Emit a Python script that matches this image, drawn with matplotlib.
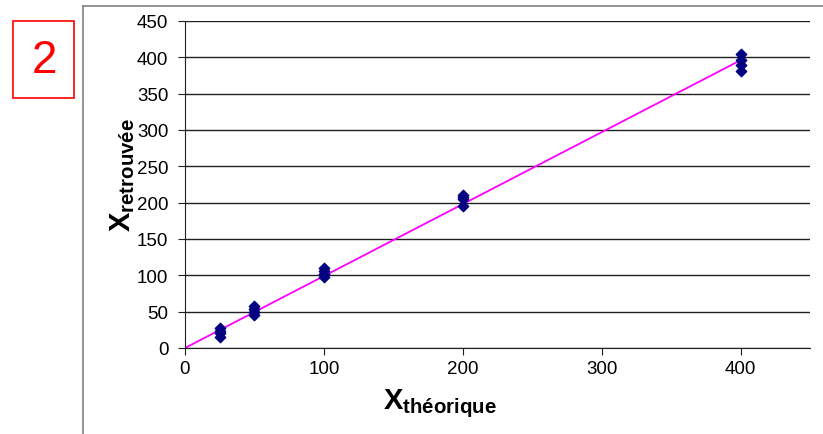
import matplotlib
matplotlib.use("Agg")
import matplotlib.pyplot as plt
from matplotlib.lines import Line2D
from matplotlib.patches import Rectangle

plt.rcParams['font.family'] = ['Liberation Sans', 'DejaVu Sans']
plt.rcParams['mathtext.fontset'] = 'custom'
plt.rcParams['mathtext.rm'] = 'Liberation Sans'
plt.rcParams['mathtext.bf'] = 'Liberation Sans:bold'

# data
x_theo = [25, 25, 25, 25,
          50, 50, 50, 50,
          100, 100, 100, 100,
          200, 200, 200, 200,
          400, 400, 400, 400]
x_found = [15, 20, 24, 28,
           46, 50, 54, 58,
           98, 102, 106, 110,
           195, 205, 208, 210,
           381, 390, 397, 404]
fit_x = [0, 400]
fit_y = [0, 396]

x_ticks = [0, 100, 200, 300, 400]
y_ticks = [0, 50, 100, 150, 200, 250, 300, 350, 400, 450]

fig = plt.figure(figsize=(8.23, 4.35), dpi=100)
ax = fig.add_axes([185/823, 1-349/435, 625/823, 327/435])

ax.plot(fit_x, fit_y, color='#FF00FF', lw=1.3, zorder=2)
ax.scatter(x_theo, x_found, marker='D', s=28, color='#000080', zorder=3)

ax.set_xlim(0, 450)
ax.set_ylim(0, 450)
ax.set_xticks(x_ticks)
ax.set_yticks(y_ticks)
ax.yaxis.grid(True, color='#202020', lw=1)
ax.set_axisbelow(True)
for side in ['top', 'right']:
    ax.spines[side].set_visible(False)
for side in ['left', 'bottom']:
    ax.spines[side].set_color('#202020')
ax.tick_params(labelsize=13.5, length=5, color='#202020', direction='out')
ax.tick_params(axis='y', pad=7)
ax.tick_params(axis='x', pad=4)

# axis titles
fig.text(440/823, 1-404/435, r'$\mathbf{X}_{\mathbf{théorique}}$',
         fontsize=21, ha='center', va='center')
fig.text(123/823, 1-175/435, r'$\mathbf{X}_{\mathbf{retrouvée}}$',
         fontsize=21, ha='center', va='center', rotation=90)

# outer chart frame (left and top edges)
fig.add_artist(Line2D([83/823, 83/823], [0, 1-7/435], color='#808080', lw=1.2))
fig.add_artist(Line2D([83/823, 1], [1-7/435, 1-7/435], color='#808080', lw=1.2))

# red label box
fig.add_artist(Rectangle((13/823, 1-99/435), 61/823, 77/435, fill=False,
                         edgecolor='#FF0000', lw=1.2, transform=fig.transFigure))
fig.text(44/823, 1-61/435, '2', color='#FF0000', fontsize=33,
         ha='center', va='center')

fig.savefig('out.png', dpi=100)
